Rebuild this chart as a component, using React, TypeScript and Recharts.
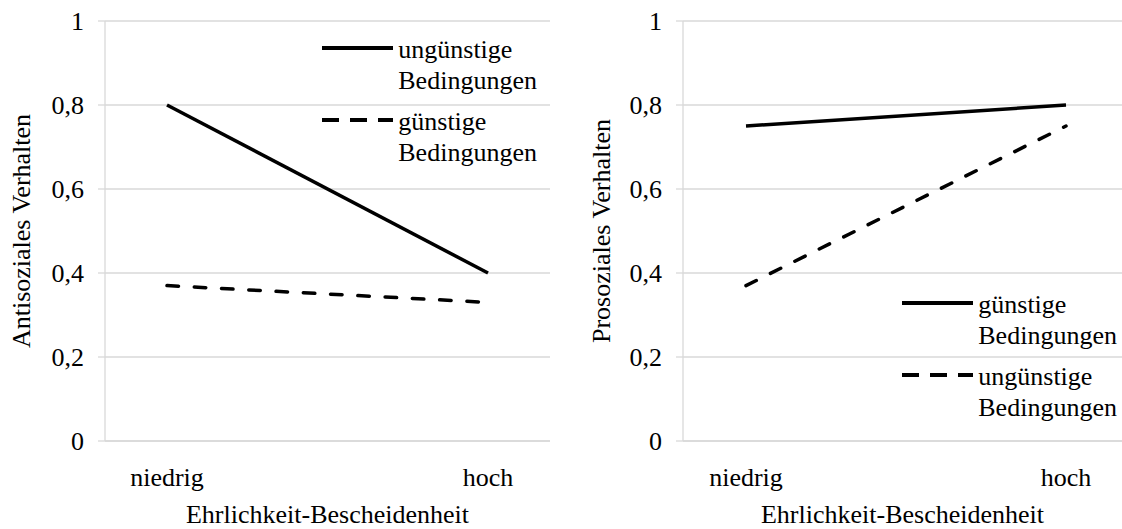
import React from 'react';
import { LineChart, Line, XAxis, YAxis, CartesianGrid, Legend } from 'recharts';

const categories = ['niedrig', 'hoch'];
const antiUnguenstig = [0.8, 0.4];
const antiGuenstig = [0.37, 0.33];
const proGuenstig = [0.75, 0.8];
const proUnguenstig = [0.37, 0.75];
const yTicks = [0, 0.2, 0.4, 0.6, 0.8, 1];

const labelUnguenstig = 'ungünstige Bedingungen';
const labelGuenstig = 'günstige Bedingungen';
const xTitle = 'Ehrlichkeit-Bescheidenheit';
const yTitleLeft = 'Antisoziales Verhalten';
const yTitleRight = 'Prosoziales Verhalten';

const leftData = categories.map((c, i) => ({ cat: c, a: antiUnguenstig[i], b: antiGuenstig[i] }));
const rightData = categories.map((c, i) => ({ cat: c, a: proGuenstig[i], b: proUnguenstig[i] }));

const FONT = '"Liberation Serif", "Times New Roman", serif';
const GRID = '#d9d9d9';
const FS = 26;
const DASH = '11.5 15.8';

const fmt = (v: number) => String(v).replace('.', ',');

const LegendContent = (props: any) => {
  const payload = [...(props.payload || [])].sort((x: any, y: any) =>
    String(x.dataKey).localeCompare(String(y.dataKey))
  );
  return (
    <div style={{ fontFamily: FONT, fontSize: FS, color: '#000' }}>
      {payload.map((e: any, i: number) => {
        const dashed = !!(e.payload && e.payload.strokeDasharray);
        return (
          <div key={i} style={{ display: 'flex', alignItems: 'flex-start', marginBottom: i === 0 ? 8.6 : 0 }}>
            <svg width={71} height={30} style={{ display: 'block', flex: 'none' }}>
              <line x1={0} x2={71} y1={14} y2={14} stroke="#000" strokeWidth={4} strokeDasharray={dashed ? '17 11' : undefined} />
            </svg>
            <div style={{ marginLeft: 5.6, lineHeight: '31.7px', width: 145 }}>{e.value}</div>
          </div>
        );
      })}
    </div>
  );
};

type PanelProps = {
  data: any[];
  width: number;
  marginRight: number;
  yAxisWidth: number;
  padLeft: number;
  padRight: number;
  yTitle: string;
  yTitleOffset: number;
  nameA: string;
  nameB: string;
  legendLeft: number;
  legendTop: number;
};

const Panel = (p: PanelProps) => (
  <LineChart
    width={p.width}
    height={529}
    data={p.data}
    margin={{ top: 21, right: p.marginRight, bottom: 0, left: 0 }}
  >
    <CartesianGrid horizontal vertical={false} stroke={GRID} strokeWidth={1.3} />
    <XAxis
      dataKey="cat"
      type="category"
      height={88}
      padding={{ left: p.padLeft, right: p.padRight }}
      axisLine={{ stroke: GRID, strokeWidth: 1.3 }}
      tickLine={false}
      tickSize={0}
      tickMargin={26.5}
      tick={{ fill: '#000', fontSize: FS, fontFamily: FONT }}
      label={{ value: xTitle, position: 'insideBottom', offset: 6, fill: '#000', fontSize: FS, fontFamily: FONT }}
    />
    <YAxis
      domain={[0, 1]}
      ticks={yTicks}
      width={p.yAxisWidth}
      tickFormatter={fmt}
      axisLine={{ stroke: GRID, strokeWidth: 1.3 }}
      tickLine={{ stroke: GRID, strokeWidth: 1.3 }}
      tickSize={7}
      tickMargin={14}
      tick={{ fill: '#000', fontSize: FS, fontFamily: FONT }}
      label={{
        value: p.yTitle,
        angle: -90,
        position: 'insideLeft',
        offset: p.yTitleOffset,
        fill: '#000',
        fontSize: FS,
        fontFamily: FONT,
        style: { textAnchor: 'middle' },
      }}
    />
    <Legend
      layout="horizontal"
      verticalAlign="middle"
      align="center"
      content={<LegendContent />}
      wrapperStyle={{ left: p.legendLeft, top: p.legendTop, width: 240 }}
    />
    <Line
      type="linear"
      dataKey="a"
      name={p.nameA}
      stroke="#000"
      strokeWidth={3.5}
      dot={false}
      activeDot={false}
      isAnimationActive={false}
    />
    <Line
      type="linear"
      dataKey="b"
      name={p.nameB}
      stroke="#000"
      strokeWidth={3.5}
      strokeDasharray={DASH}
      strokeLinecap="round"
      dot={false}
      activeDot={false}
      isAnimationActive={false}
    />
  </LineChart>
);

export default function App() {
  return (
    <div style={{ position: 'absolute', left: 0, top: 0, width: 1122, height: 529, background: '#fff', overflow: 'hidden' }}>
      <div style={{ position: 'absolute', left: 0, top: 0 }}>
        <Panel
          data={leftData}
          width={560}
          marginRight={10}
          yAxisWidth={105}
          padLeft={62}
          padRight={62}
          yTitle={yTitleLeft}
          yTitleOffset={21}
          nameA={labelUnguenstig}
          nameB={labelGuenstig}
          legendLeft={321.7}
          legendTop={33.7}
        />
      </div>
      <div style={{ position: 'absolute', left: 561, top: 0 }}>
        <Panel
          data={rightData}
          width={561}
          marginRight={0}
          yAxisWidth={122}
          padLeft={63}
          padRight={56}
          yTitle={yTitleRight}
          yTitleOffset={40}
          nameA={labelGuenstig}
          nameB={labelUnguenstig}
          legendLeft={340.7}
          legendTop={288.7}
        />
      </div>
    </div>
  );
}
